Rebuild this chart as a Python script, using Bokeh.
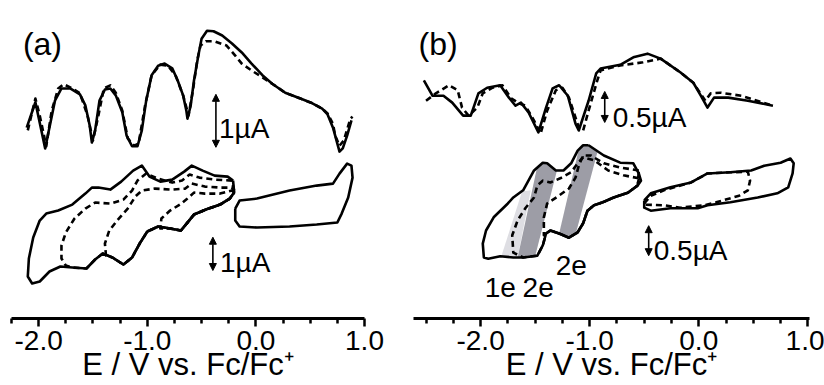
from bokeh.plotting import figure
from bokeh.models import Range1d, FixedTicker, PrintfTickFormatter, Label, Arrow, NormalHead
from bokeh.layouts import row
from bokeh.embed import file_html
from bokeh.resources import INLINE

FONT = "Liberation Sans"

# ---------------- Panel (a) data : E / V vs Fc/Fc+, I / uA ----------------
dpv_a_E_solid = [-2.11, -2.03, -1.94, -1.85, -1.79, -1.71, -1.62, -1.57, -1.53, -1.51, -1.48, -1.44, -1.39, -1.34, -1.29,
                 -1.23, -1.19, -1.14, -1.09, -1.05, -1.01, -0.96, -0.90, -0.84, -0.77, -0.72, -0.67, -0.64, -0.63, -0.60,
                 -0.57, -0.53, -0.50, -0.45, -0.39, -0.31, -0.22, -0.13, -0.04, 0.06, 0.15, 0.27, 0.41, 0.52, 0.61,
                 0.66, 0.71, 0.75, 0.77, 0.80, 0.84, 0.88]
dpv_a_I_solid = [0.43, 0.91, 0.04, 0.94, 1.17, 1.17, 1.06, 0.85, 0.47, 0.15, 0.38, 0.94, 1.15, 1.17, 1.04,
                 0.72, 0.28, 0.08, 0.08, 0.38, 0.94, 1.42, 1.60, 1.64, 1.55, 1.32, 1.04, 0.75, 0.60, 0.85,
                 1.32, 1.79, 2.11, 2.26, 2.25, 2.17, 2.02, 1.85, 1.64, 1.42, 1.26, 1.09, 0.98, 0.89, 0.79,
                 0.68, 0.43, 0.13, -0.02, 0.04, 0.28, 0.57]
dpv_a_E_dash = [-2.10, -2.03, -1.99, -1.93, -1.88, -1.82, -1.77, -1.69, -1.62, -1.55, -1.50, -1.45, -1.40, -1.34, -1.29,
                -1.23, -1.18, -1.12, -1.08, -1.02, -0.96, -0.88, -0.81, -0.74, -0.67, -0.62, -0.58, -0.54, -0.51, -0.46,
                -0.38, -0.27, -0.19, -0.13, -0.04, 0.06, 0.15, 0.27, 0.41, 0.52, 0.61, 0.66, 0.71, 0.73, 0.77,
                0.81, 0.87, 0.89]
dpv_a_I_dash = [0.38, 0.98, 0.66, 0.08, 0.75, 1.17, 1.25, 1.17, 1.08, 0.66, 0.19, 0.66, 1.17, 1.23, 1.09,
                0.75, 0.23, 0.09, 0.13, 0.85, 1.42, 1.62, 1.60, 1.42, 1.04, 0.66, 1.13, 1.70, 1.98, 2.06,
                2.06, 1.98, 1.79, 1.64, 1.51, 1.38, 1.26, 1.09, 0.98, 0.89, 0.79, 0.70, 0.50, 0.28, 0.09,
                0.19, 0.60, 0.64]

cv_a_E_neg = [-0.21, -0.26, -0.38, -0.49, -0.59, -0.66, -0.77, -0.88, -0.98, -1.05, -1.13, -1.24, -1.34, -1.45, -1.51,
              -1.57, -1.69, -1.82, -1.93, -1.99, -2.05, -2.09, -2.10, -2.06, -1.99, -1.90, -1.80, -1.69, -1.56, -1.48,
              -1.41, -1.32, -1.22, -1.14, -1.07, -1.00, -0.90, -0.79, -0.69, -0.63, -0.57, -0.46, -0.33, -0.24, -0.20,
              -0.21]
cv_a_I_neg = [2.70, 2.82, 2.85, 3.00, 3.15, 2.97, 2.73, 2.67, 2.82, 3.15, 3.00, 2.67, 2.43, 2.49, 2.49,
              2.31, 1.98, 1.80, 1.71, 1.50, 0.99, 0.36, -0.18, -0.39, -0.33, -0.03, 0.12, 0.09, 0.06, 0.33,
              0.51, 0.39, 0.18, 0.39, 0.81, 1.17, 1.32, 1.26, 1.20, 1.44, 1.68, 1.83, 1.98, 2.16, 2.34,
              2.70]
cv_a_E_sw1 = [-0.20, -0.22, -0.38, -0.52, -0.61, -0.68, -0.77, -0.90, -1.01, -1.09, -1.14, -1.22, -1.34, -1.48, -1.57,
              -1.67, -1.75, -1.79, -1.79, -1.75, -1.69, -1.56, -1.48, -1.41, -1.32, -1.22, -1.14, -1.07, -1.00, -0.90,
              -0.79, -0.69, -0.63, -0.57, -0.46, -0.33, -0.24, -0.20]
cv_a_I_sw1 = [2.40, 2.70, 2.73, 2.79, 2.88, 2.70, 2.64, 2.76, 2.91, 2.70, 2.40, 2.13, 2.01, 2.04, 1.86,
              1.56, 1.14, 0.75, 0.36, 0.15, 0.09, 0.06, 0.33, 0.51, 0.39, 0.18, 0.39, 0.81, 1.17, 1.32,
              1.26, 1.20, 1.44, 1.68, 1.83, 1.98, 2.16, 2.34]
cv_a_E_sw2 = [-0.20, -0.22, -0.33, -0.47, -0.59, -0.65, -0.77, -0.93, -1.05, -1.11, -1.18, -1.27, -1.35, -1.39, -1.38,
              -1.32, -1.22, -1.14, -1.07, -1.00, -0.90, -0.79, -0.69, -0.63, -0.57, -0.46, -0.33, -0.24, -0.20]
cv_a_I_sw2 = [2.34, 2.49, 2.49, 2.52, 2.61, 2.46, 2.43, 2.46, 2.40, 2.22, 1.86, 1.53, 1.20, 0.81, 0.45,
              0.39, 0.18, 0.39, 0.81, 1.17, 1.32, 1.26, 1.20, 1.44, 1.68, 1.83, 1.98, 2.16, 2.34]
cv_a_E_sw3 = [-0.20, -0.22, -0.33, -0.47, -0.57, -0.63, -0.70, -0.79, -0.87, -0.88, -0.79, -0.69, -0.63, -0.57, -0.46,
              -0.33, -0.24, -0.20]
cv_a_I_sw3 = [2.34, 2.40, 2.31, 2.31, 2.34, 2.16, 1.98, 1.80, 1.56, 1.26, 1.26, 1.20, 1.44, 1.68, 1.83,
              1.98, 2.16, 2.34]
cv_a_E_pos = [-0.19, -0.15, 0.01, 0.31, 0.56, 0.71, 0.77, 0.84, 0.88, 0.89, 0.85, 0.79, 0.75, 0.56, 0.31,
              0.01, -0.15, -0.19, -0.19]
cv_a_I_pos = [1.86, 2.10, 2.16, 2.40, 2.55, 2.61, 2.91, 3.21, 3.15, 2.79, 2.19, 1.71, 1.44, 1.38, 1.32,
              1.29, 1.32, 1.50, 1.86]

# ---------------- Panel (b) data ----------------
dpv_b_E_solid = [-2.52, -2.44, -2.34, -2.26, -2.16, -2.09, -2.02, -1.94, -1.82, -1.74, -1.68, -1.63, -1.56, -1.47, -1.40,
                 -1.34, -1.28, -1.20, -1.13, -1.10, -1.01, -0.94, -0.90, -0.72, -0.60, -0.47, -0.35, -0.17, -0.05, 0.02,
                 0.08, 0.14, 0.27, 0.45, 0.68]
dpv_b_I_solid = [0.81, 0.56, 0.56, 0.45, 0.24, 0.24, 0.60, 0.69, 0.73, 0.53, 0.40, 0.45, 0.29, -0.03, 0.37,
                 0.68, 0.73, 0.56, 0.11, 0.00, 0.48, 0.92, 1.00, 1.06, 1.18, 1.24, 1.16, 0.94, 0.77, 0.56,
                 0.37, 0.53, 0.53, 0.48, 0.40]
dpv_b_E_dash = [-2.50, -2.41, -2.29, -2.21, -2.17, -2.11, -2.03, -1.98, -1.89, -1.80, -1.72, -1.65, -1.59, -1.51, -1.45,
                -1.39, -1.31, -1.25, -1.19, -1.10, -1.06, -1.01, -0.93, -0.90, -0.72, -0.51, -0.35, -0.17, -0.05, 0.06,
                0.11, 0.20, 0.39, 0.68]
dpv_b_I_dash = [0.48, 0.60, 0.73, 0.65, 0.37, 0.24, 0.37, 0.60, 0.69, 0.73, 0.52, 0.44, 0.40, 0.16, -0.05,
                0.32, 0.65, 0.69, 0.53, 0.05, 0.00, 0.32, 0.81, 0.97, 1.05, 1.10, 1.16, 0.94, 0.77, 0.48,
                0.60, 0.61, 0.56, 0.40]

cv_b_E_neg = [-1.01, -0.87, -0.72, -0.60, -0.55, -0.53, -0.56, -0.65, -0.78, -0.88, -0.96, -1.02, -1.06, -1.11, -1.19,
              -1.28, -1.36, -1.40, -1.43, -1.48, -1.61, -1.70, -1.82, -1.93, -1.97, -1.98, -1.95, -1.88, -1.75, -1.70,
              -1.61, -1.57, -1.51, -1.43, -1.39, -1.31, -1.24, -1.17, -1.11, -1.06, -1.01]
cv_b_I_neg = [1.92, 1.75, 1.63, 1.62, 1.45, 1.33, 1.25, 1.13, 1.05, 0.97, 0.92, 0.83, 0.62, 0.47, 0.38,
              0.45, 0.50, 0.45, 0.25, 0.08, 0.05, 0.05, 0.07, 0.03, 0.05, 0.28, 0.50, 0.72, 0.95, 1.05,
              1.17, 1.30, 1.50, 1.63, 1.62, 1.50, 1.50, 1.62, 1.83, 1.92, 1.92]
cv_b_E_sw1 = [-0.55, -0.69, -0.83, -0.96, -1.06, -1.11, -1.17, -1.27, -1.36, -1.43, -1.48, -1.51, -1.59, -1.66, -1.71,
              -1.70, -1.61, -1.48, -1.43, -1.40, -1.36, -1.28, -1.19, -1.11, -1.06, -1.02, -0.96, -0.88, -0.78, -0.65,
              -0.56, -0.55]
cv_b_I_sw1 = [1.37, 1.42, 1.50, 1.67, 1.72, 1.62, 1.47, 1.37, 1.30, 1.33, 1.25, 1.05, 0.87, 0.67, 0.42,
              0.13, 0.05, 0.08, 0.25, 0.45, 0.50, 0.45, 0.38, 0.47, 0.62, 0.83, 0.92, 0.97, 1.05, 1.13,
              1.25, 1.37]
cv_b_E_sw2 = [-0.55, -0.72, -0.87, -0.99, -1.06, -1.10, -1.13, -1.19, -1.29, -1.39, -1.42, -1.42, -1.36, -1.28, -1.19,
              -1.11, -1.06, -1.02, -0.96, -0.88, -0.78, -0.65, -0.56, -0.55]
cv_b_I_sw2 = [1.50, 1.55, 1.62, 1.75, 1.75, 1.58, 1.38, 1.20, 1.07, 0.95, 0.72, 0.42, 0.50, 0.45, 0.38,
              0.47, 0.62, 0.83, 0.92, 0.97, 1.05, 1.13, 1.25, 1.50]
cv_b_E_pos = [-0.50, -0.44, -0.26, -0.07, 0.08, 0.29, 0.48, 0.60, 0.75, 0.84, 0.87, 0.86, 0.82, 0.72, 0.54,
              0.29, 0.08, -0.01, -0.26, -0.44, -0.50, -0.50]
cv_b_I_pos = [1.00, 1.12, 1.22, 1.30, 1.45, 1.47, 1.50, 1.58, 1.63, 1.70, 1.62, 1.45, 1.22, 1.12, 1.05,
              0.97, 0.92, 0.87, 0.87, 0.83, 0.88, 1.00]
cv_b_E_pos_dash = [-0.50, -0.44, -0.32, -0.07, 0.08, 0.29, 0.45, 0.47, 0.45, 0.37, 0.16, 0.05, -0.17, -0.32, -0.49, -0.50]
cv_b_I_pos_dash = [0.95, 1.08, 1.17, 1.30, 1.45, 1.47, 1.48, 1.33, 1.17, 1.08, 0.97, 0.92, 0.88, 0.92, 0.93, 0.95]

# shaded electron-transfer windows (1e, 2e, 2e)
band_1e_E = [-1.81, -1.66, -1.54, -1.62]
band_1e_I = [0.07, 0.05, 1.17, 1.15]
band_2e_a_E = [-1.66, -1.50, -1.30, -1.39, -1.43, -1.48]
band_2e_a_I = [0.05, 0.07, 1.50, 1.62, 1.63, 1.57]
band_2e_b_E = [-1.28, -1.19, -1.13, -0.93, -1.01, -1.06, -1.10]
band_2e_b_I = [0.45, 0.38, 0.43, 1.80, 1.92, 1.92, 1.85]

major_ticks = [-2.0, -1.0, 0.0, 1.0]
minor_ticks = [-2.5, -2.25, -1.75, -1.5, -1.25, -0.75, -0.5, -0.25, 0.25, 0.5, 0.75]
axis_title = "E / V vs. Fc/Fc\u207a"

LW = 2.6
DASH = "6 4"
H = 385


def make_fig(width, xr, yr_dpv, yr_cv, bl, br):
    p = figure(width=width, height=H, x_range=Range1d(*xr), y_range=Range1d(*yr_dpv),
               output_backend="svg", toolbar_location=None, y_axis_location=None,
               min_border_left=bl, min_border_right=br, min_border_top=0, min_border_bottom=67)
    p.extra_y_ranges = {"cv": Range1d(*yr_cv)}
    p.grid.visible = False
    p.outline_line_color = None
    p.background_fill_color = "white"
    p.border_fill_color = "white"
    ax = p.xaxis[0]
    ax.ticker = FixedTicker(ticks=major_ticks, minor_ticks=minor_ticks)
    ax.formatter = PrintfTickFormatter(format="%.1f")
    ax.axis_line_width = 3
    ax.axis_line_color = "black"
    ax.major_tick_line_width = 2.5
    ax.minor_tick_line_width = 2.5
    ax.major_tick_line_color = "black"
    ax.minor_tick_line_color = "black"
    ax.major_tick_out = 8
    ax.major_tick_in = 0
    ax.minor_tick_out = 5
    ax.minor_tick_in = 0
    ax.major_label_text_font = FONT
    ax.major_label_text_font_size = "28px"
    ax.major_label_text_color = "black"
    ax.major_label_standoff = 4
    ax.axis_label = axis_title
    ax.axis_label_text_font = FONT
    ax.axis_label_text_font_size = "31px"
    ax.axis_label_text_font_style = "normal"
    ax.axis_label_text_color = "black"
    ax.axis_label_text_baseline = "alphabetic"
    ax.axis_label_standoff = -6
    return p


def curve(p, E, I, dashed=False, rng="default"):
    kw = dict(line_width=LW, line_color="black", line_join="round")
    if dashed:
        kw["line_dash"] = DASH
    if rng != "default":
        kw["y_range_name"] = rng
    p.line(E, I, **kw)


def txt(p, x, y, s, size, rng="default", align="left"):
    kw = {}
    if rng != "default":
        kw["y_range_name"] = rng
    p.add_layout(Label(x=x, y=y, text=s, text_font=FONT, text_font_size=size, text_color="black",
                       text_align=align, text_baseline="alphabetic", **kw))


def bar(p, x, y0, length, rng="default"):
    kw = {}
    if rng != "default":
        kw["y_range_name"] = rng
    p.add_layout(Arrow(start=NormalHead(size=7, fill_color="black", line_color="black"),
                       end=NormalHead(size=7, fill_color="black", line_color="black"),
                       x_start=x, y_start=y0, x_end=x, y_end=y0 + length,
                       line_width=1.6, line_color="black", **kw))


# ---------------- Panel (a) ----------------
pa = make_fig(412, (-2.25, 1.0), (-3.170, 2.830), (-1.441, 8.108), 11, 48)
curve(pa, dpv_a_E_dash, dpv_a_I_dash, dashed=True)
curve(pa, dpv_a_E_solid, dpv_a_I_solid)
curve(pa, cv_a_E_sw1, cv_a_I_sw1, dashed=True, rng="cv")
curve(pa, cv_a_E_sw2, cv_a_I_sw2, dashed=True, rng="cv")
curve(pa, cv_a_E_sw3, cv_a_I_sw3, dashed=True, rng="cv")
curve(pa, cv_a_E_neg, cv_a_I_neg, rng="cv")
curve(pa, cv_a_E_pos, cv_a_I_pos, rng="cv")
bar(pa, -0.368, 0.06, 1.0)
bar(pa, -0.396, 0.0, 1.0, rng="cv")
txt(pa, -0.34, 0.415, "1\u00b5A", "28px")
txt(pa, -0.33, 0.24, "1\u00b5A", "28px", rng="cv")
txt(pa, -2.145, 2.0, "(a)", "32px")

# ---------------- Panel (b) ----------------
pb = make_fig(412, (-2.615, 1.015), (-3.032, 2.097), (-0.967, 4.333), 1, 15)
pb.patch(band_1e_E, band_1e_I, fill_color="#dedee3", line_color=None, y_range_name="cv")
pb.patch(band_2e_a_E, band_2e_a_I, fill_color="#9d9da6", line_color=None, y_range_name="cv")
pb.patch(band_2e_b_E, band_2e_b_I, fill_color="#9d9da6", line_color=None, y_range_name="cv")
curve(pb, dpv_b_E_dash, dpv_b_I_dash, dashed=True)
curve(pb, dpv_b_E_solid, dpv_b_I_solid)
curve(pb, cv_b_E_sw1, cv_b_I_sw1, dashed=True, rng="cv")
curve(pb, cv_b_E_sw2, cv_b_I_sw2, dashed=True, rng="cv")
curve(pb, cv_b_E_pos_dash, cv_b_I_pos_dash, dashed=True, rng="cv")
curve(pb, cv_b_E_neg, cv_b_I_neg, rng="cv")
curve(pb, cv_b_E_pos, cv_b_I_pos, rng="cv")
bar(pb, -0.862, 0.13, 0.5)
bar(pb, -0.459, 0.08, 0.5, rng="cv")
txt(pb, -0.789, 0.21, "0.5\u00b5A", "28px")
txt(pb, -0.413, 0.167, "0.5\u00b5A", "28px", rng="cv")
txt(pb, -1.963, -0.45, "1e", "28px", rng="cv")
txt(pb, -1.615, -0.45, "2e", "28px", rng="cv")
txt(pb, -1.312, -0.083, "2e", "28px", rng="cv")
txt(pb, -2.569, 1.40, "(b)", "32px")

layout = row(pa, pb)
open("out.html", "w").write(file_html(layout, INLINE))
